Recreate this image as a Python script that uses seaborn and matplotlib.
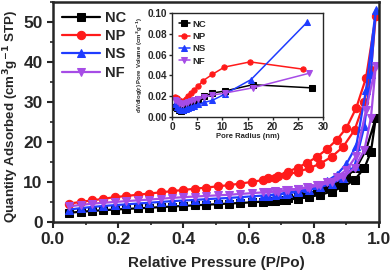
import numpy as np
import pandas as pd
import matplotlib
matplotlib.use("Agg")
import matplotlib.pyplot as plt
import seaborn as sns
from matplotlib.ticker import MultipleLocator

# isotherm data (adsorption then desorption branch)
p_ads = [0.05, 0.085, 0.12, 0.155, 0.19, 0.225, 0.26, 0.295, 0.33, 0.365, 0.40,
         0.435, 0.47, 0.505, 0.54, 0.575, 0.61, 0.645, 0.68, 0.715, 0.75, 0.785,
         0.82, 0.855, 0.89, 0.925, 0.955, 0.975, 0.99]
p_des = [0.96, 0.93, 0.90, 0.87, 0.84, 0.81, 0.78, 0.75, 0.72, 0.69, 0.66]

nc_ads = [2.3, 2.55, 2.75, 2.95, 3.1, 3.25, 3.4, 3.55, 3.7, 3.85, 4.0, 4.15, 4.3,
          4.45, 4.6, 4.75, 4.9, 5.1, 5.3, 5.55, 5.85, 6.25, 6.8, 7.6, 8.8, 10.5,
          13.5, 17.5, 26.0]
nc_des = [18.0, 13.5, 11.3, 9.8, 8.7, 7.8, 7.1, 6.5, 6.0, 5.6, 5.3]

np_ads = [4.6, 5.0, 5.4, 5.8, 6.2, 6.5, 6.8, 7.1, 7.4, 7.7, 8.0, 8.3, 8.6, 8.9,
          9.2, 9.6, 10.0, 10.5, 11.1, 11.8, 12.5, 13.4, 14.6, 16.3, 18.8, 23.0,
          30.0, 38.0, 51.5]
np_des = [36.0, 28.5, 23.5, 20.5, 18.2, 16.3, 14.8, 13.6, 12.5, 11.6, 10.9]

ns_ads = [3.1, 3.45, 3.75, 4.0, 4.2, 4.4, 4.6, 4.8, 5.0, 5.2, 5.35, 5.5, 5.7,
          5.85, 6.0, 6.2, 6.4, 6.6, 6.85, 7.1, 7.5, 8.0, 8.7, 9.6, 11.0, 14.0,
          24.0, 37.0, 53.0]
ns_des = [33.0, 19.0, 14.5, 11.8, 10.2, 9.2, 8.4, 7.8, 7.3, 6.9, 6.6]

nf_ads = [3.9, 4.25, 4.55, 4.8, 5.0, 5.2, 5.4, 5.6, 5.8, 6.0, 6.2, 6.35, 6.5,
          6.65, 6.8, 7.0, 7.2, 7.4, 7.65, 7.9, 8.2, 8.6, 9.2, 10.0, 11.3, 13.5,
          18.0, 26.0, 39.0]
nf_des = [28.0, 16.5, 13.0, 11.2, 10.1, 9.3, 8.7, 8.3, 7.9, 7.6, 7.4]

# pore size distribution (inset)
r_nc = [0.6, 1.0, 1.4, 1.8, 2.2, 2.7, 3.2, 3.8, 4.4, 5.2, 6.4, 8.0, 10.5, 16.0, 27.8]
v_nc = [0.010, 0.009, 0.007, 0.006, 0.007, 0.010, 0.012, 0.014, 0.015, 0.017,
        0.020, 0.023, 0.025, 0.031, 0.028]
r_np = [0.6, 1.0, 1.4, 1.8, 2.2, 2.7, 3.2, 3.8, 4.4, 5.2, 6.2, 8.0, 10.4, 15.5, 26.0]
v_np = [0.019, 0.018, 0.016, 0.014, 0.015, 0.017, 0.020, 0.023, 0.026, 0.030,
        0.035, 0.041, 0.048, 0.053, 0.046]
r_ns = [0.6, 1.0, 1.4, 1.8, 2.2, 2.7, 3.2, 3.8, 4.4, 5.2, 6.4, 8.0, 10.5, 15.7, 26.8]
v_ns = [0.012, 0.010, 0.008, 0.007, 0.007, 0.008, 0.009, 0.010, 0.011, 0.012,
        0.014, 0.016, 0.022, 0.036, 0.091]
r_nf = [0.6, 1.0, 1.4, 1.8, 2.2, 2.7, 3.2, 3.8, 4.4, 5.2, 6.4, 8.0, 10.5, 16.0, 27.2]
v_nf = [0.016, 0.015, 0.013, 0.012, 0.012, 0.013, 0.014, 0.015, 0.016, 0.017,
        0.019, 0.021, 0.023, 0.028, 0.042]

names = ["NC", "NP", "NS", "NF"]
colors = ["black", "#ff1a1a", "#1f3cff", "#a64ce6"]
markers = ["s", "o", "^", "v"]
iso = [(nc_ads, nc_des), (np_ads, np_des), (ns_ads, ns_des), (nf_ads, nf_des)]
psd = [(r_nc, v_nc), (r_np, v_np), (r_ns, v_ns), (r_nf, v_nf)]

sns.set_style("ticks")
plt.rcParams["font.family"] = ["Liberation Sans", "DejaVu Sans"]
plt.rcParams["font.weight"] = "bold"
plt.rcParams["axes.labelweight"] = "bold"

fig = plt.figure(figsize=(3.92, 2.72), dpi=100)
ax = fig.add_axes([0.135, 0.184, 0.832, 0.809])

for name, c, m, (ads, des) in zip(names, colors, markers, iso):
    x = p_ads + p_des
    y = ads + des
    sns.lineplot(x=x, y=y, sort=False, estimator=None, ax=ax, color=c,
                 marker=m, markersize=6, markeredgecolor=c, linewidth=1.6,
                 label=name)

ax.set_xlim(0, 1.0)
ax.set_ylim(0, 55)
ax.xaxis.set_major_locator(MultipleLocator(0.2))
ax.xaxis.set_minor_locator(MultipleLocator(0.1))
ax.yaxis.set_major_locator(MultipleLocator(10))
ax.yaxis.set_minor_locator(MultipleLocator(5))
ax.tick_params(which="major", direction="out", length=4, width=1.5, labelsize=12.5)
ax.tick_params(which="minor", direction="out", length=2.5, width=1.2)
for lab in ax.get_xticklabels() + ax.get_yticklabels():
    lab.set_fontweight("bold")
for s in ax.spines.values():
    s.set_linewidth(1.8)
ax.set_xlabel("Relative Pressure (P/Po)", fontsize=11, fontweight="bold", labelpad=6)
ax.set_ylabel("Quantity Adsorbed (cm$^\\mathbf{3}$g$^\\mathbf{-1}$ STP)", fontsize=9.6,
              fontweight="bold")
ax.yaxis.set_label_coords(-0.097, 0.48)
leg = ax.legend(loc="upper left", frameon=False, handlelength=2.6,
                labelspacing=0.3, borderaxespad=0.2, handletextpad=0.4,
                prop={"weight": "bold", "size": 10.5})

# inset
ins = fig.add_axes([0.439, 0.570, 0.385, 0.382])
for name, c, m, (r, v) in zip(names, colors, markers, psd):
    sns.lineplot(x=r, y=v, sort=False, estimator=None, ax=ins, color=c,
                 marker=m, markersize=3.8, markeredgecolor=c, linewidth=1.1,
                 label=name)
ins.set_xlim(0, 30)
ins.set_ylim(0, 0.10)
ins.xaxis.set_major_locator(MultipleLocator(5))
ins.yaxis.set_major_locator(MultipleLocator(0.02))
ins.yaxis.set_major_formatter(matplotlib.ticker.FormatStrFormatter("%.2f"))
ins.tick_params(direction="out", length=2, width=1, labelsize=7.2, pad=1.5)
for lab in ins.get_xticklabels() + ins.get_yticklabels():
    lab.set_fontweight("bold")
for s in ins.spines.values():
    s.set_linewidth(1.0)
ins.set_xlabel("Pore Radius (nm)", fontsize=5.5, fontweight="bold", labelpad=1)
ins.set_ylabel("dV/dlog(r) Pore Volume (cm$^\\mathbf{3}$g$^\\mathbf{-1}$)", fontsize=4.3,
               fontweight="bold", labelpad=2)
ins.legend(loc="upper left", frameon=False, handlelength=1.2, labelspacing=0.35,
           borderaxespad=0.3, handletextpad=0.3,
           prop={"weight": "bold", "size": 6.8})

fig.savefig("out.png", dpi=100)
